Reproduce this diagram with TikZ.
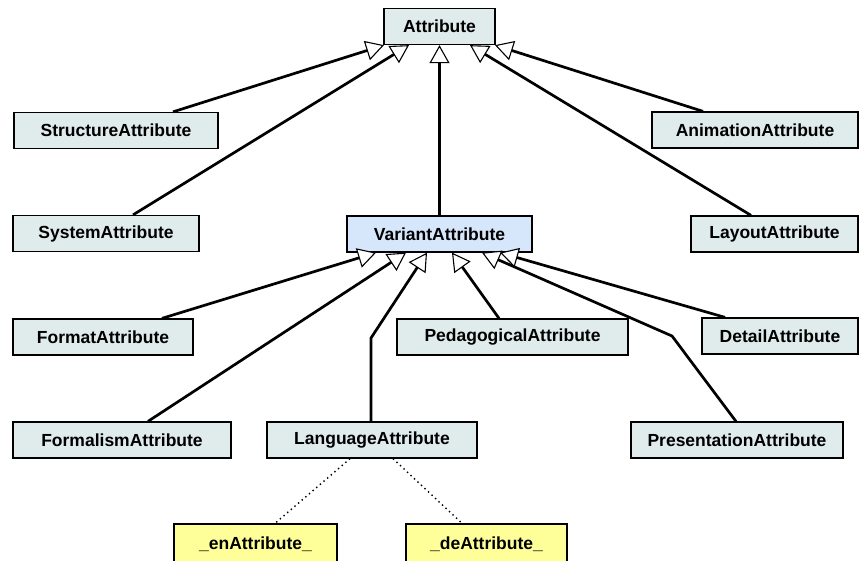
\documentclass[tikz,border=0pt]{standalone}
\usepackage{fontspec}
\setmainfont{Liberation Sans}
\usetikzlibrary{arrows.meta}
\definecolor{boxteal}{HTML}{E0ECEC}
\definecolor{boxblue}{HTML}{D7E7FB}
\definecolor{boxyellow}{HTML}{FFFF99}
\tikzset{
  cls/.style={draw=black, line width=1.3pt, fill=boxteal, minimum height=36pt, inner sep=0pt,
    font=\fontsize{17.5}{20}\selectfont\bfseries},
  gen/.style={line width=2.7pt, line join=round,
    -{Triangle[fill=white, line width=1.1pt, length=18pt, width=20pt]}},
  inst/.style={line width=1.4pt, dash pattern=on 1.4pt off 3.4pt}
}
\begin{document}
\begin{tikzpicture}[x=1pt,y=-1pt]
\useasboundingbox (0,0) rectangle (860,560);
% nodes
\node[cls, minimum width=111pt] (attr) at (439.5,26.5) {Attribute};
\node[cls, minimum width=204pt] (struct) at (116,130.5) {StructureAttribute};
\node[cls, minimum width=186pt] (system) at (106,233.5) {SystemAttribute};
\node[cls, minimum width=185pt, fill=boxblue] (variant) at (439.5,234) {VariantAttribute};
\node[cls, minimum width=206pt] (anim) at (755,130) {AnimationAttribute};
\node[cls, minimum width=167pt] (layout) at (774.5,234) {LayoutAttribute};
\node[cls, minimum width=180pt] (format) at (103,337) {FormatAttribute};
\node[cls, minimum width=218pt] (formalism) at (122,440) {FormalismAttribute};
\node[cls, minimum width=210pt] (language) at (372,440) {LanguageAttribute};
\node[cls, minimum width=231pt] (pedag) at (512.5,337) {PedagogicalAttribute};
\node[cls, minimum width=156pt] (detail) at (780,336) {DetailAttribute};
\node[cls, minimum width=212pt] (present) at (737,440) {PresentationAttribute};
\node[cls, minimum width=163pt, minimum height=40pt, fill=boxyellow] (en) at (255.5,544) {\_enAttribute\_};
\node[cls, minimum width=161pt, minimum height=40pt, fill=boxyellow] (de) at (486.5,544) {\_deAttribute\_};
% bend points
\coordinate (langbend) at (371,338);
\coordinate (presbend) at (672,336);
% generalizations to Attribute
\draw[gen] ([xshift=57pt]struct.north) -- ([xshift=-55.5pt]attr.south);
\draw[gen] ([xshift=27pt]system.north) -- ([xshift=-30.5pt]attr.south);
\draw[gen] (variant.north) -- (attr.south);
\draw[gen] ([xshift=-23.5pt]layout.north) -- ([xshift=30.5pt]attr.south);
\draw[gen] ([xshift=-52pt]anim.north) -- ([xshift=55.5pt]attr.south);
% generalizations to VariantAttribute
\draw[gen] ([xshift=59pt]format.north) -- ([xshift=-63.5pt]variant.south);
\draw[gen] ([xshift=26pt]formalism.north) -- ([xshift=-33.5pt]variant.south);
\draw[gen] ([xshift=-1pt]language.north) -- (langbend) -- ([xshift=-12.5pt]variant.south);
\draw[gen] ([xshift=-13.5pt]pedag.north) -- ([xshift=12.5pt]variant.south);
\draw[gen] ([xshift=-1pt]present.north) -- (presbend) -- ([xshift=42.5pt]variant.south);
\draw[gen] ([xshift=-55pt]detail.north) -- ([xshift=60.5pt]variant.south);
% instances
\draw[inst] ([xshift=-22pt]language.south) -- ([xshift=19.5pt]en.north);
\draw[inst] ([xshift=21pt]language.south) -- ([xshift=-24.5pt]de.north);
\end{tikzpicture}
\end{document}
